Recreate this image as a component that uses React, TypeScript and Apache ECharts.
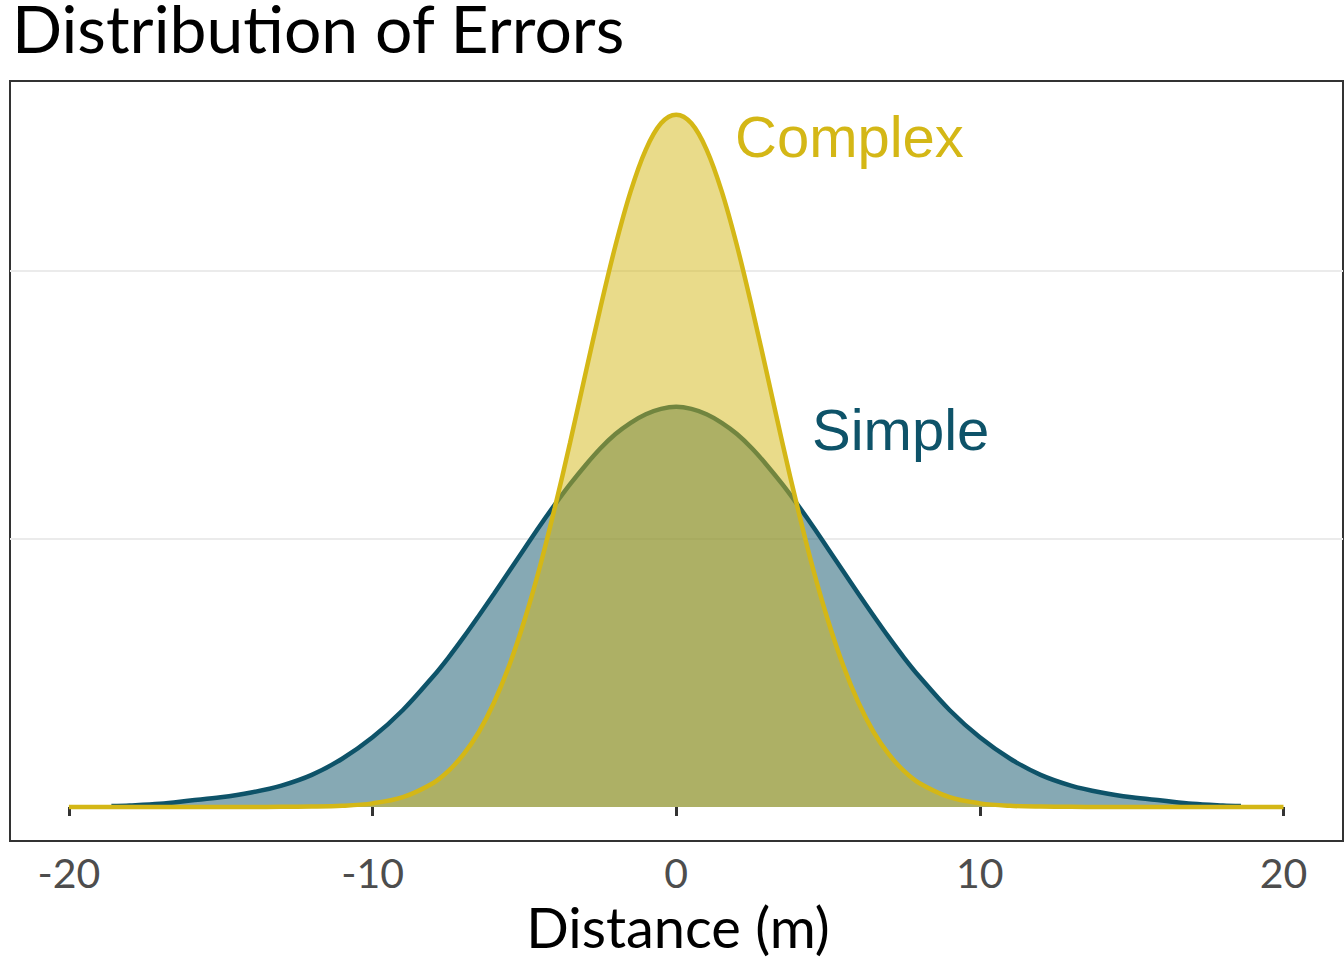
import React, { useEffect, useRef } from "react";
import * as echarts from "echarts";

const titleText = "Distribution of Errors";
const xAxisTitle = "Distance (m)";
const tickValues = [-20, -10, 0, 10, 20];
const gridValues = [0.05, 0.1];

const simpleX = [-18.6, -18, -17, -16, -15, -14, -13, -12, -11, -10, -9, -8, -7.5, -7, -6.5, -6, -5.5, -5, -4.5, -4, -3.5, -3, -2.5, -2, -1.5, -1, -0.5, 0, 0.5, 1, 1.5, 2, 2.5, 3, 3.5, 4, 4.5, 5, 5.5, 6, 6.5, 7, 7.5, 8, 9, 10, 11, 12, 13, 14, 15, 16, 17, 18, 18.6];
const simpleY = [0.0002, 0.0003, 0.0006, 0.0012, 0.0018, 0.0027, 0.004, 0.006, 0.009, 0.013, 0.0181, 0.0244, 0.0279, 0.0317, 0.0357, 0.0398, 0.044, 0.0482, 0.0524, 0.0564, 0.0602, 0.0637, 0.0669, 0.0696, 0.0717, 0.0733, 0.0743, 0.0747, 0.0743, 0.0733, 0.0717, 0.0696, 0.0669, 0.0637, 0.0602, 0.0564, 0.0524, 0.0482, 0.044, 0.0398, 0.0357, 0.0317, 0.0279, 0.0244, 0.0181, 0.013, 0.009, 0.006, 0.004, 0.0027, 0.0018, 0.0012, 0.0006, 0.0003, 0.0002];

const complexX = [-20, -18, -16, -14, -13, -12, -11, -10, -9, -8, -7.5, -7, -6.5, -6, -5.5, -5, -4.5, -4, -3.5, -3, -2.5, -2, -1.5, -1, -0.5, 0, 0.5, 1, 1.5, 2, 2.5, 3, 3.5, 4, 4.5, 5, 5.5, 6, 6.5, 7, 7.5, 8, 9, 10, 11, 12, 13, 14, 16, 18, 20];
const complexY = [0, 0, 0, 0, 0.00003, 0.00007, 0.00022, 0.00068, 0.00183, 0.00448, 0.00673, 0.00985, 0.014, 0.0195, 0.0264, 0.0348, 0.0446, 0.0558, 0.0679, 0.0806, 0.0931, 0.1048, 0.1149, 0.1227, 0.1276, 0.1292, 0.1276, 0.1227, 0.1149, 0.1048, 0.0931, 0.0806, 0.0679, 0.0558, 0.0446, 0.0348, 0.0264, 0.0195, 0.014, 0.00985, 0.00673, 0.00448, 0.00183, 0.00068, 0.00022, 0.00007, 0.00003, 0, 0, 0, 0];

const seriesNames = ["Simple", "Complex"];

const simpleColor = "#0E5369";
const complexColor = "#D4B716";

export default function App() {
  const ref = useRef<HTMLDivElement>(null);
  useEffect(() => {
    document.body.style.margin = "0";
    const chart = echarts.init(ref.current!, null, { renderer: "svg" });
    const simpleData = simpleX.map((x, i) => [x, simpleY[i]]);
    const complexData = complexX.map((x, i) => [x, complexY[i]]);
    chart.setOption({
      animation: false,
      backgroundColor: "#ffffff",
      grid: {
        left: 10,
        top: 81,
        width: 1333,
        height: 760,
        show: true,
        borderColor: "#333333",
        borderWidth: 2,
        backgroundColor: "transparent",
      },
      xAxis: {
        type: "value",
        min: -21.94,
        max: 21.96,
        axisLine: { show: false },
        splitLine: { show: false },
        axisTick: {
          show: true,
          customValues: tickValues,
          length: 9,
          lineStyle: { color: "#333333", width: 3 },
        },
        axisLabel: {
          customValues: tickValues,
          fontFamily: "Lato",
          fontSize: 41,
          color: "#4D4D4D",
          margin: 11,
        },
      },
      yAxis: {
        type: "value",
        min: -0.006346,
        max: 0.1355,
        axisLine: { show: false },
        axisTick: { show: false },
        axisLabel: { show: false },
        splitLine: { show: false },
      },
      graphic: [
        {
          type: "text",
          x: 12,
          y: 27,
          style: {
            text: titleText,
            fontFamily: "Lato",
            fontSize: 66,
            fill: "#000000",
            textAlign: "left",
            textVerticalAlign: "middle",
          },
        },
        {
          type: "text",
          x: 678,
          y: 926,
          style: {
            text: xAxisTitle,
            fontFamily: "Lato",
            fontSize: 56,
            fill: "#000000",
            textAlign: "center",
            textVerticalAlign: "middle",
          },
        },
        {
          type: "text",
          x: 735,
          y: 136,
          style: {
            text: seriesNames[1],
            fontFamily: "Liberation Sans",
            fontSize: 58,
            fill: complexColor,
            textAlign: "left",
            textVerticalAlign: "middle",
          },
        },
        {
          type: "text",
          x: 812,
          y: 429,
          style: {
            text: seriesNames[0],
            fontFamily: "Liberation Sans",
            fontSize: 58,
            fill: simpleColor,
            textAlign: "left",
            textVerticalAlign: "middle",
          },
        },
      ],
      series: [
        {
          type: "line",
          name: "grid",
          data: [],
          z: 0,
          silent: true,
          markLine: {
            silent: true,
            z: 0,
            symbol: ["none", "none"],
            label: { show: false },
            lineStyle: { color: "#EBEBEB", width: 2, type: "solid" },
            data: gridValues.map((v) => ({ yAxis: v })),
          },
        },
        {
          type: "line",
          name: seriesNames[0],
          data: simpleData,
          smooth: 0.35,
          showSymbol: false,
          symbol: "none",
          z: 2,
          lineStyle: { color: simpleColor, width: 4.5 },
          areaStyle: { color: simpleColor, opacity: 0.5 },
        },
        {
          type: "line",
          name: seriesNames[1],
          data: complexData,
          smooth: 0.35,
          showSymbol: false,
          symbol: "none",
          z: 3,
          lineStyle: { color: complexColor, width: 4.5 },
          areaStyle: { color: complexColor, opacity: 0.5 },
        },
      ],
    });
    return () => chart.dispose();
  }, []);
  return <div ref={ref} style={{ width: 1344, height: 960 }} />;
}
